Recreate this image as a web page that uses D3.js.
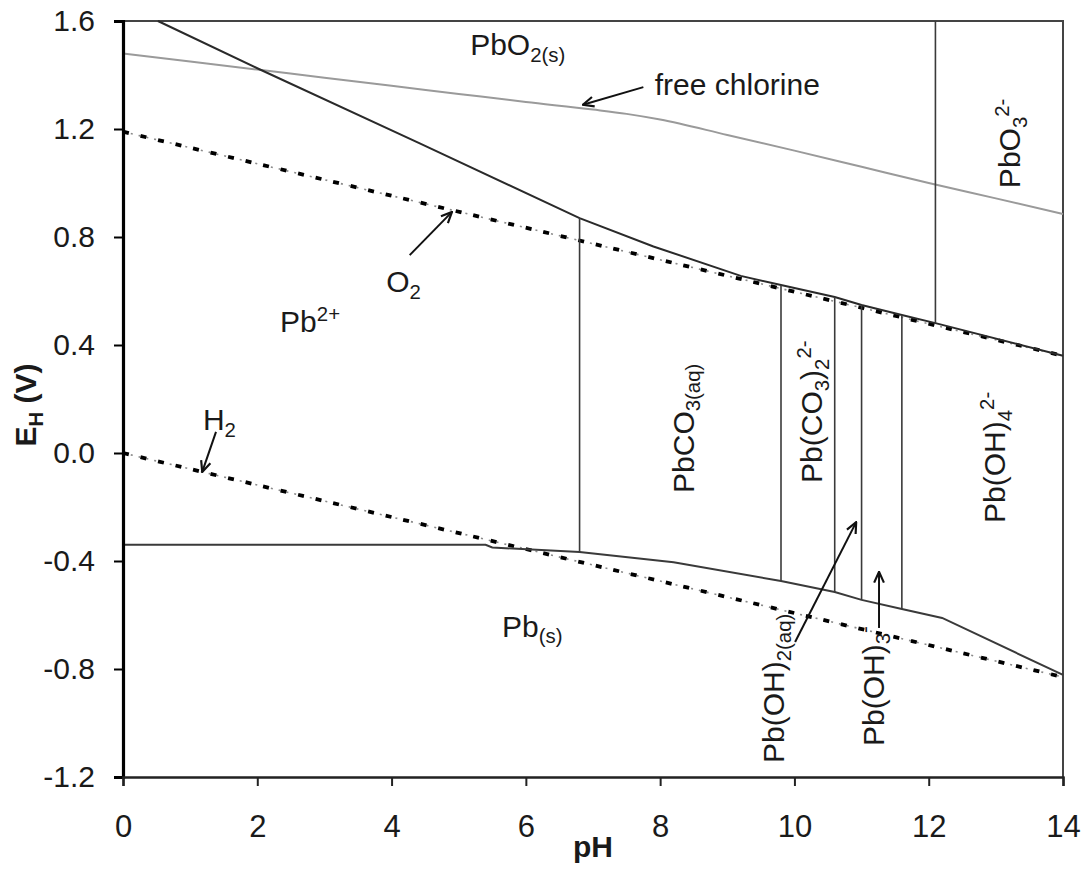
<!DOCTYPE html>
<html>
<head>
<meta charset="utf-8">
<script src="https://cdn.jsdelivr.net/npm/d3@7"></script>
<style>
  html, body { margin: 0; padding: 0; background: #fff; }
  svg { display: block; }
  text { font-family: "Liberation Sans", Arial, sans-serif; fill: #1a1a1a; }
</style>
</head>
<body>
<svg id="chart" width="1086" height="869"></svg>
<script>
// ---- Eh-pH diagram for lead, data ----
const phTicks = [0, 2, 4, 6, 8, 10, 12, 14];
const ehTicks = [-1.2, -0.8, -0.4, 0.0, 0.4, 0.8, 1.2, 1.6];

// free chlorine (HOCl/OCl- -> Cl-) line
const chlorinePH = [0, 1, 2, 3, 4, 5, 6, 7, 7.5, 8, 9, 10, 11, 12, 13, 14];
const chlorineE  = [1.48, 1.45, 1.42, 1.39, 1.36, 1.33, 1.30, 1.272, 1.256, 1.235, 1.178, 1.12, 1.06, 1.0, 0.943, 0.885];

// upper boundary: PbO2(s) / dissolved Pb(II)
const upperPH = [0.52, 2.0, 4.42, 6.8, 7.9, 9.2, 9.8, 10.6, 11.0, 11.6, 12.1, 14];
const upperE  = [1.60, 1.425, 1.147, 0.87, 0.765, 0.656, 0.622, 0.578, 0.548, 0.511, 0.481, 0.36];

// lower boundary: dissolved Pb(II) / Pb(s)
const lowerPH = [0, 5.4, 5.5, 6.8, 8.2, 9.8, 10.6, 11.0, 11.6, 12.2, 14];
const lowerE  = [-0.34, -0.34, -0.35, -0.367, -0.405, -0.474, -0.515, -0.544, -0.578, -0.611, -0.822];

// water stability lines
const o2PH = [0, 14];
const o2E  = [1.19, 0.36];
const h2PH = [0, 14];
const h2E  = [0.0, -0.83];

// predominance boundaries between dissolved species
const speciesBoundsPH = [6.8, 9.8, 10.6, 11.0, 11.6];
// PbO2(s) / PbO3 2- boundary
const pbo3BoundPH = 12.1;

// ---- chart setup ----
const svg = d3.select("#chart");
const x = d3.scaleLinear().domain([0, 14]).range([123, 1063]);
const y = d3.scaleLinear().domain([-1.2, 1.6]).range([777, 21]);

const FS = 30;          // region label size
const YTICK_FS = 30;    // y tick label size
const XTICK_FS = 31;    // x tick label size

function interp(xs, ys, v) {
  const i = Math.max(1, Math.min(xs.length - 1, d3.bisectLeft(xs, v)));
  const t = (v - xs[i - 1]) / (xs[i] - xs[i - 1]);
  return ys[i - 1] + t * (ys[i] - ys[i - 1]);
}
const pts = (xs, ys) => xs.map((p, i) => [p, ys[i]]);
const line = d3.line().x(d => x(d[0])).y(d => y(d[1]));
const smooth = d3.line().x(d => x(d[0])).y(d => y(d[1])).curve(d3.curveMonotoneX);

// plot frame (top and right)
svg.append("path")
  .attr("d", `M${x(0)},${y(1.6)}H${x(14)}V${y(-1.2)}`)
  .attr("fill", "none").attr("stroke", "#444").attr("stroke-width", 2);

// free chlorine
svg.append("path").attr("d", smooth(pts(chlorinePH, chlorineE)))
  .attr("fill", "none").attr("stroke", "#9a9a9a").attr("stroke-width", 2);

// water lines: grey dotted base with heavy black dashes
function waterLine(xs, ys) {
  const d = line(pts(xs, ys));
  svg.append("path").attr("d", d).attr("fill", "none")
    .attr("stroke", "#8a8a8a").attr("stroke-width", 1.6).attr("stroke-dasharray", "2,6");
  svg.append("path").attr("d", d).attr("fill", "none")
    .attr("stroke", "#000").attr("stroke-width", 3.8).attr("stroke-dasharray", "6,12");
}
waterLine(o2PH, o2E);
waterLine(h2PH, h2E);

// phase boundaries
svg.append("path").attr("d", line(pts(upperPH, upperE)))
  .attr("fill", "none").attr("stroke", "#2a2a2a").attr("stroke-width", 2);
svg.append("path").attr("d", line(pts(lowerPH, lowerE)))
  .attr("fill", "none").attr("stroke", "#3a3a3a").attr("stroke-width", 2);

svg.append("g").selectAll("line").data(speciesBoundsPH).join("line")
  .attr("x1", d => x(d)).attr("x2", d => x(d))
  .attr("y1", d => y(interp(upperPH, upperE, d)))
  .attr("y2", d => y(interp(lowerPH, lowerE, d)))
  .attr("stroke", "#3a3a3a").attr("stroke-width", 1.6);

svg.append("line")
  .attr("x1", x(pbo3BoundPH)).attr("x2", x(pbo3BoundPH))
  .attr("y1", y(1.6)).attr("y2", y(interp(upperPH, upperE, pbo3BoundPH)))
  .attr("stroke", "#3a3a3a").attr("stroke-width", 1.6);

// axes
const fmtY = v => d3.format(".1f")(v).replace("\u2212", "-");
const yAxis = d3.axisLeft(y).tickValues(ehTicks).tickFormat(fmtY)
  .tickSize(9).tickPadding(19);
const gy = svg.append("g").attr("transform", `translate(${x(0)},0)`).call(yAxis);
gy.select(".domain").attr("stroke", "#000").attr("stroke-width", 3.2);
gy.selectAll(".tick line").attr("stroke", "#000").attr("stroke-width", 2);
gy.selectAll(".tick text").attr("font-size", YTICK_FS).attr("font-family", null).attr("fill", "#1a1a1a");

const xAxis = d3.axisBottom(x).tickValues(phTicks).tickFormat(d3.format("d"))
  .tickSize(9).tickPadding(29);
const gx = svg.append("g").attr("transform", `translate(0,${y(-1.2)})`).call(xAxis);
gx.select(".domain").attr("stroke", "#222").attr("stroke-width", 2.4);
gx.selectAll(".tick line").attr("stroke", "#222").attr("stroke-width", 2);
gx.selectAll(".tick text").attr("font-size", XTICK_FS).attr("font-family", null).attr("fill", "#1a1a1a");

// rich text with sub/superscripts
function richText(parent, segs, size, opts = {}) {
  const t = parent.append("text").attr("font-size", size);
  if (opts.bold) t.attr("font-weight", "bold");
  if (opts.anchor) t.attr("text-anchor", opts.anchor);
  let shift = 0;
  segs.forEach(([str, kind]) => {
    const target = kind === "sub" ? 0.22 * size : kind === "sup" ? -0.38 * size : 0;
    const ts = t.append("tspan").text(str).attr("dy", target - shift);
    if (kind) ts.attr("font-size", size * 0.68);
    shift = target;
  });
  return t;
}
function label(segs, ph, e, rotate = false, size = FS, opts = {}) {
  const g = svg.append("g")
    .attr("transform", `translate(${x(ph)},${y(e)})` + (rotate ? " rotate(-90)" : ""));
  return richText(g, segs, size, opts);
}

// region labels
label([["PbO"], ["2(s)", "sub"]], 5.17, 1.474);
label([["free chlorine"]], 7.92, 1.326);
label([["PbO"], ["3", "sub"], ["2-", "sup"]], 13.36, 0.981, true);
label([["O"], ["2", "sub"]], 3.92, 0.596);
label([["Pb"], ["2+", "sup"]], 2.34, 0.448);
label([["H"], ["2", "sub"]], 1.19, 0.085);
label([["Pb"], ["(s)", "sub"]], 5.645, -0.681);
label([["PbCO"], ["3(aq)", "sub"]], 8.5, -0.148, true);
label([["Pb(CO"], ["3", "sub"], [")"], ["2", "sub"], ["2-", "sup"]], 10.41, -0.111, true);
label([["Pb(OH)"], ["4", "sub"], ["2-", "sup"]], 13.14, -0.259, true);
label([["Pb(OH)"], ["2(aq)", "sub"]], 9.845, -1.148, true);
label([["Pb(OH)"], ["3", "sub"], ["-", "sup"]], 11.33, -1.085, true);

// arrows
const defs = svg.append("defs");
defs.append("marker").attr("id", "head")
  .attr("viewBox", "0 0 12 12").attr("refX", 11).attr("refY", 6)
  .attr("markerWidth", 13).attr("markerHeight", 13).attr("markerUnits", "userSpaceOnUse")
  .attr("orient", "auto")
  .append("path").attr("d", "M1,1.5 L11,6 L1,10.5").attr("fill", "none")
  .attr("stroke", "#111").attr("stroke-width", 2);

const arrows = [
  [[7.75, 1.355], [6.85, 1.29]],
  [[4.27, 0.733], [4.9, 0.893]],
  [[1.385, 0.078], [1.18, -0.07]],
  [[10.01, -0.70], [10.92, -0.256]],
  [[11.26, -0.648], [11.26, -0.44]]
];
svg.append("g").selectAll("line").data(arrows).join("line")
  .attr("x1", d => x(d[0][0])).attr("y1", d => y(d[0][1]))
  .attr("x2", d => x(d[1][0])).attr("y2", d => y(d[1][1]))
  .attr("stroke", "#111").attr("stroke-width", 2)
  .attr("marker-end", "url(#head)");

// axis titles
const ty = svg.append("g").attr("transform", `translate(36,${(y(1.6) + y(-1.2)) / 2 + 6})rotate(-90)`);
richText(ty, [["E"], ["H", "sub"], [" (V)"]], 30, { bold: true, anchor: "middle" });
const tx = svg.append("g").attr("transform", `translate(${(x(0) + x(14)) / 2},857)`);
richText(tx, [["pH"]], 30, { bold: true, anchor: "middle" });
</script>
</body>
</html>
